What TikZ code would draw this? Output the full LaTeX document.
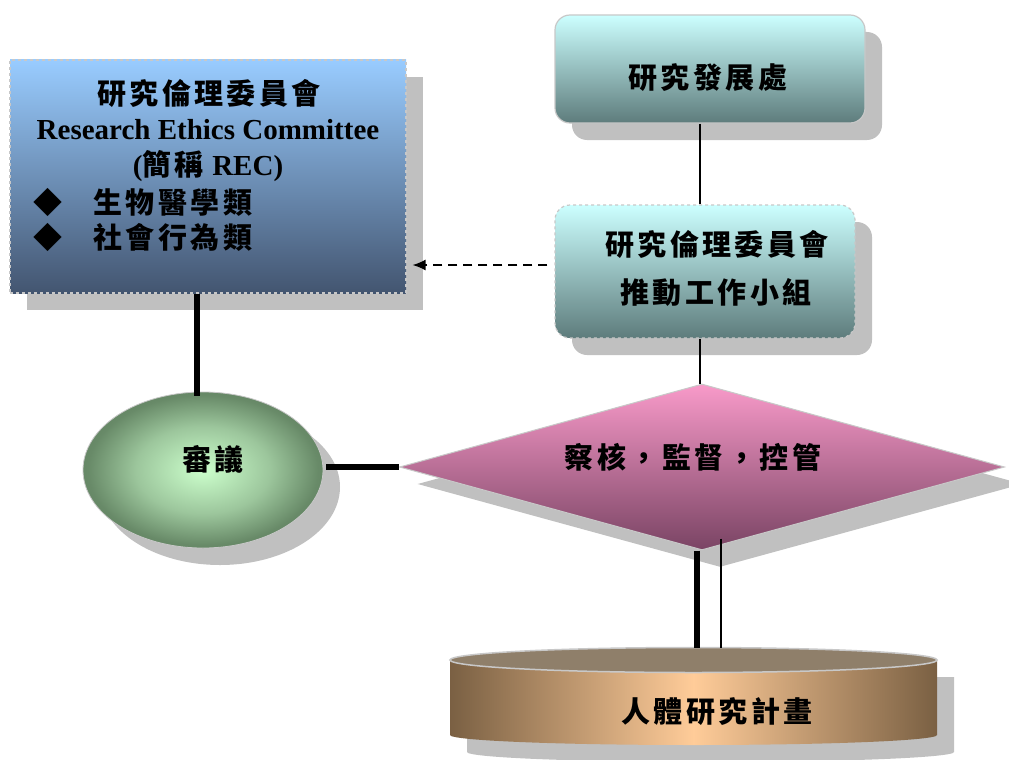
\documentclass[tikz,border=0pt]{standalone}
\usepackage{fontspec}
\setmainfont{Liberation Serif}
\newfontfamily\cjk[LetterSpace=12]{Noto Sans CJK TC}
\usetikzlibrary{shapes.geometric,shadows,calc,arrows.meta}
\definecolor{shadowgray}{HTML}{C0C0C0}
\definecolor{bordergray}{HTML}{C8C8C8}
\definecolor{rectop}{HTML}{99CCFF}
\definecolor{recbot}{HTML}{435570}
\definecolor{rdotop}{HTML}{CCFFFF}
\definecolor{rdobot}{HTML}{5E7C7C}
\definecolor{ellin}{HTML}{CCFFCC}
\definecolor{ellmid}{HTML}{9CC69C}
\definecolor{ellmid2}{HTML}{688A68}
\definecolor{ellout}{HTML}{5F7F5F}
\definecolor{diatop}{HTML}{F89AC9}
\definecolor{diabot}{HTML}{7A4464}
\definecolor{cylside}{HTML}{7A6043}
\definecolor{cylmid}{HTML}{FFCC99}
\definecolor{cyltop}{HTML}{8F7F6A}
\pgfdeclareradialshading{ellshade}{\pgfpoint{0bp}{0bp}}{%
  color(0bp)=(ellin); color(14bp)=(ellmid); color(24bp)=(ellmid2); color(30bp)=(ellout); color(50bp)=(ellout)}
\begin{document}
\begin{tikzpicture}[x=1pt,y=-1pt,
  shad/.style={drop shadow={shadow xshift=17pt,shadow yshift=-17pt,fill=shadowgray,opacity=1}},
  cjkt/.style={font={\cjk\bfseries\fontsize{29}{34}\selectfont},inner sep=0pt},
  latt/.style={font={\bfseries\fontsize{29}{34}\selectfont},inner sep=0pt},
  recbox/.style={rectangle,minimum width=396pt,minimum height=233pt,inner sep=0pt,
    top color=rectop,bottom color=recbot,draw=bordergray,dashed,line width=1.2pt,shad},
  tealbox/.style={rectangle,rounded corners=15pt,inner sep=0pt,
    top color=rdotop,bottom color=rdobot,draw=bordergray,line width=1.2pt,shad},
  ellbox/.style={ellipse,minimum width=240pt,minimum height=156pt,inner sep=0pt,
    shading=ellshade,draw=bordergray,line width=0.8pt,shad},
  diabox/.style={diamond,minimum width=605pt,minimum height=166pt,aspect=3.64,inner sep=0pt,
    top color=diatop,bottom color=diabot,draw=bordergray,line width=1pt,
    drop shadow={shadow xshift=18pt,shadow yshift=-17pt,fill=shadowgray,opacity=1}},
  thin/.style={line width=1.2pt,black},
  thick/.style={line width=5.5pt,black},
  dasharrow/.style={line width=1.5pt,dash pattern=on 9pt off 6pt,-{Latex[length=13pt,width=11pt]}}
]
\useasboundingbox (0,0) rectangle (1009,760);

% boxes
\node[recbox] (rec) at (208,176.5) {};
\node[tealbox,minimum width=310pt,minimum height=108pt] (rdo) at (710,69) {};
\node[tealbox,dashed,minimum width=300pt,minimum height=133pt] (wg) at (705,271.5) {};
\node[ellbox] (ell) at (203,470) {};
\node[diabox] (dia) at (702,467) {};

% cylinder
\fill[shadowgray] (467,677) -- (467,752) arc[start angle=180,end angle=0,x radius=243.5,y radius=10] -- (954,677) -- cycle;
\shade[left color=cylside,right color=cylside,middle color=cylmid]
  (450,660) -- (450,735) arc[start angle=180,end angle=0,x radius=243.5,y radius=10] -- (937,660) -- cycle;
\fill[cyltop,draw=bordergray,line width=1.5pt] (693.5,660) ellipse[x radius=243.5,y radius=12.5];
\coordinate (ctop1) at (697,648);
\coordinate (ctop2) at (721,648);

% texts
\node[cjkt] (t1) at (209,93) {研究倫理委員會};
\node[latt] (t2) at (208,130) {Research Ethics Committee};
\node[latt] (t3) at (208,166) {(\textnormal{\cjk\bfseries\fontsize{29}{34}\selectfont 簡稱}\,REC)};
\node[cjkt,anchor=west] (t4) at (33,202) {◆\hspace{31pt}生物醫學類};
\node[cjkt,anchor=west] (t5) at (33,237) {◆\hspace{31pt}社會行為類};
\node[cjkt] (t6) at (708,78) {研究發展處};
\node[cjkt] (t7) at (717,244) {研究倫理委員會};
\node[cjkt] (t8) at (716,292) {推動工作小組};
\node[cjkt] (t9) at (213,459) {審議};
\node[cjkt] (t10) at (693,457) {察核，監督，控管};
\node[cjkt] (plan) at (717,712) {人體研究計畫};

% connectors
\draw[thin] ([xshift=-10pt]rdo.south) -- ([xshift=-5pt]wg.north);
\draw[thin] ([xshift=-5pt]wg.south) -- ([xshift=-2pt]dia.north);
\coordinate (a) at ($(wg.west)+(-7,-6.5)$);
\draw[dasharrow] (a) -- ($(rec.east |- a)+(6,0)$);
\draw[thick] ($(rec.south)+(-11,0)$) -- ($(ell.north)+(-6,4)$);
\draw[thick] ($(ell.east)+(3,-3)$) -- (dia.west);
\draw[thick] ($(dia.south)+(-5,0)$) -- (ctop1);
\draw[thin] ($(dia.south)+(19,-12)$) -- (ctop2);
\end{tikzpicture}
\end{document}
